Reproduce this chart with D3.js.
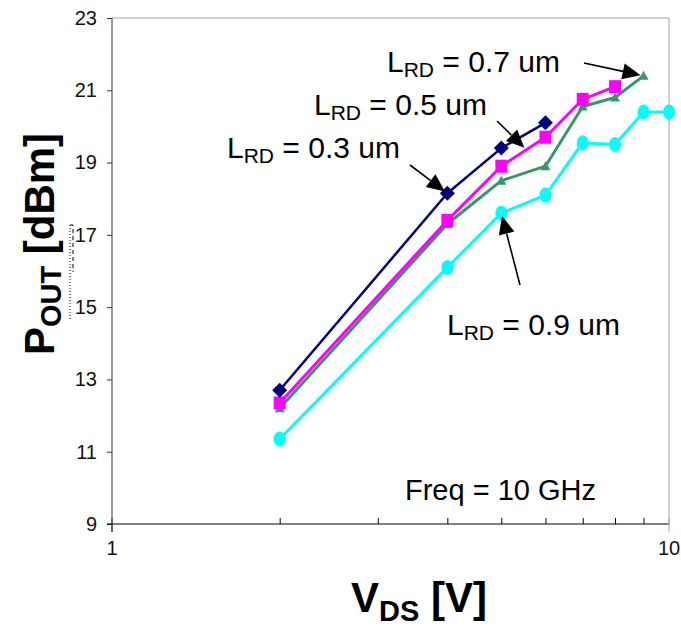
<!DOCTYPE html>
<html>
<head>
<meta charset="utf-8">
<script src="https://cdn.jsdelivr.net/npm/d3@7"></script>
<style>
  body { margin: 0; background: #fff; }
  svg text { font-family: Arial, "Liberation Sans", sans-serif; }
</style>
</head>
<body>
<svg id="chart" width="681" height="629"></svg>
<script>
// V_DS steps [V]
const vds = [2, 4, 5, 6, 7, 8, 9, 10];

// P_OUT [dBm] per recess length
const pout03 = [12.7, 18.15, 19.4, 20.1];
const pout05 = [12.35, 17.4, 18.9, 19.7, 20.75, 21.1];
const pout07 = [12.2, 17.3, 18.5, 18.9, 20.55, 20.8, 21.4];
const pout09 = [11.35, 16.1, 17.6, 18.1, 19.55, 19.5, 20.4, 20.4];

const yTicks = [9, 11, 13, 15, 17, 19, 21, 23];
const xTicks = [1, 10];

const series = [
  { name: '0.9', values: pout09, color: '#00ffff', shape: 'circle' },
  { name: '0.7', values: pout07, color: '#339966', shape: 'triangle' },
  { name: '0.5', values: pout05, color: '#ff00ff', shape: 'square' },
  { name: '0.3', values: pout03, color: '#000080', shape: 'diamond' }
];

const svg = d3.select('#chart');
const x = d3.scaleLog().domain([1, 10]).range([112, 669]);
const y = d3.scaleLinear().domain([9, 23]).range([524, 18]);

// frame
svg.append('line').attr('x1', x(1)).attr('x2', x(10)).attr('y1', y(23)).attr('y2', y(23))
  .attr('stroke', '#a6a6a6').attr('stroke-width', 1);
svg.append('line').attr('x1', x(10)).attr('x2', x(10)).attr('y1', y(23)).attr('y2', y(9))
  .attr('stroke', '#a6a6a6').attr('stroke-width', 1);

// y axis
const yAxis = svg.append('g').attr('transform', `translate(${x(1)},0)`)
  .call(d3.axisLeft(y).tickValues(yTicks).tickSize(5).tickPadding(10));
yAxis.select('.domain').attr('stroke', '#333').attr('d', `M0,${y(23)}V${y(9) + 8}`);
yAxis.selectAll('.tick line').attr('stroke', '#333');
yAxis.selectAll('.tick text').attr('font-size', 20).attr('fill', '#111')
  .attr('font-family', 'Arial, "Liberation Sans", sans-serif');

// x axis: minor ticks point inward, decades cross
const xAxis = svg.append('g').attr('transform', `translate(0,${y(9)})`)
  .call(d3.axisBottom(x).tickValues(d3.range(2, 10)).tickSize(-6).tickFormat(''));
xAxis.select('.domain').attr('stroke', '#000').attr('d', `M${x(1) - 5},0H${x(10)}`);
xAxis.selectAll('.tick line').attr('stroke', '#000');
xAxis.selectAll('.major').data(xTicks).join('line')
  .attr('x1', d => x(d)).attr('x2', d => x(d)).attr('y1', -6).attr('y2', 8)
  .attr('stroke', d => d === 10 ? '#a6a6a6' : '#333');
xAxis.selectAll('.xlab').data(xTicks).join('text')
  .attr('x', d => x(d)).attr('y', 31).attr('text-anchor', 'middle')
  .attr('font-size', 20).attr('fill', '#111').text(d => d);

// series
const line = d3.line().x(d => x(d[0])).y(d => y(d[1]));
const marker = {
  triangle: 'M0,-5L5,4L-5,4Z',
  square: 'M-6,-6.5H6V6.5H-6Z',
  diamond: 'M0,-7.5L7.5,0L0,7.5L-7.5,0Z'
};

series.forEach(s => {
  const pts = s.values.map((v, i) => [vds[i], v]);
  const g = svg.append('g');
  g.append('path').datum(pts).attr('d', line).attr('fill', 'none')
    .attr('stroke', s.color).attr('stroke-width', s.shape === 'diamond' ? 2.5 : 3)
    .attr('stroke-linejoin', 'round');
  if (s.shape === 'circle') {
    g.selectAll('ellipse').data(pts).join('ellipse')
      .attr('cx', d => x(d[0])).attr('cy', d => y(d[1]))
      .attr('rx', 6).attr('ry', 7.5).attr('fill', s.color);
  } else {
    g.selectAll('path.m').data(pts).join('path').attr('class', 'm')
      .attr('transform', d => `translate(${x(d[0])},${y(d[1])})`)
      .attr('d', marker[s.shape]).attr('fill', s.color);
  }
});

// annotations
const labels = ['0.7', '0.5', '0.3', '0.9'];
const labelPos = [[387, 72], [314, 115], [227, 158], [447, 335]];
const arrowFrom = [[584, 63], [497, 121], [410, 165], [520, 285]];
const arrowTo = [[9, 21.4], [5.55, 19.35], [4, 18.15], [5, 17.6]];

labels.forEach((t, i) => {
  const [fx, fy] = arrowFrom[i];
  const tx = x(arrowTo[i][0]), ty = y(arrowTo[i][1]);
  const ang = Math.atan2(ty - fy, tx - fx);
  const ex = tx - Math.cos(ang) * 3, ey = ty - Math.sin(ang) * 3;
  // arrow shaft + head
  const hl = 18, hw = 8;
  const bx = ex - Math.cos(ang) * hl, by = ey - Math.sin(ang) * hl;
  svg.append('line').attr('x1', fx).attr('y1', fy).attr('x2', bx).attr('y2', by)
    .attr('stroke', '#000').attr('stroke-width', 1.6);
  svg.append('path')
    .attr('d', `M${ex},${ey}L${bx + Math.sin(ang) * hw},${by - Math.cos(ang) * hw}L${bx - Math.sin(ang) * hw},${by + Math.cos(ang) * hw}Z`)
    .attr('fill', '#000');

  const txt = svg.append('text').attr('x', labelPos[i][0]).attr('y', labelPos[i][1])
    .attr('font-size', 30).attr('fill', '#000');
  txt.append('tspan').text('L');
  txt.append('tspan').attr('font-size', 21).attr('dy', 5).text('RD');
  txt.append('tspan').attr('dy', -5).text(` = ${t} um`);
});

svg.append('text').attr('x', 405).attr('y', 500).attr('font-size', 29).attr('fill', '#000')
  .text('Freq = 10 GHz');

// axis titles
const xt = svg.append('text').attr('x', 419).attr('y', 612).attr('text-anchor', 'middle')
  .attr('font-size', 42).attr('font-weight', 'bold');
xt.append('tspan').text('V');
xt.append('tspan').attr('font-size', 29).attr('dy', 9).text('DS');
xt.append('tspan').attr('dy', -9).text(' [V]');

const yt = svg.append('text').attr('transform', 'translate(54,244) rotate(-90)')
  .attr('text-anchor', 'middle').attr('font-size', 42).attr('font-weight', 'bold');
yt.append('tspan').text('P');
yt.append('tspan').attr('font-size', 29).attr('dy', 7).text('OUT');
yt.append('tspan').attr('dy', -7).text(' [dBm]');

// stray dashed box left of the axis
svg.append('path').attr('d', 'M70,225V320').attr('stroke', '#000').attr('stroke-width', 1)
  .attr('stroke-dasharray', '1,2').attr('fill', 'none');
svg.append('path').attr('d', 'M70,225H73V272').attr('stroke', '#000').attr('stroke-width', 1)
  .attr('stroke-dasharray', '4,3').attr('fill', 'none');
</script>
</body>
</html>
